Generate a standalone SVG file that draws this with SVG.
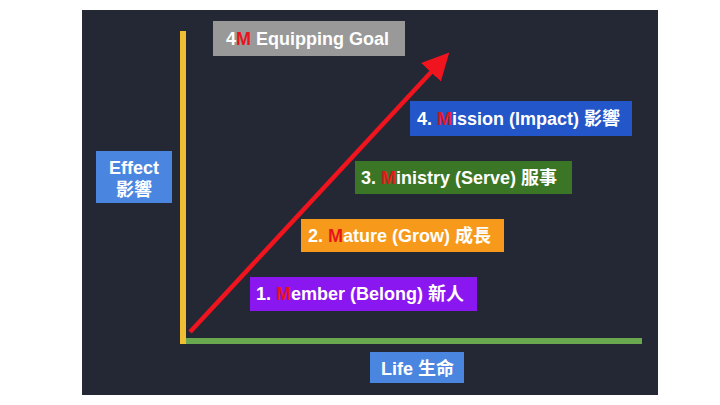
<svg xmlns="http://www.w3.org/2000/svg" width="720" height="405" viewBox="0 0 720 405">
<defs>
<style>
.t{font-family:"Liberation Sans","Noto Sans CJK TC",sans-serif;font-weight:bold;font-size:18px;fill:#fff}
.m{fill:#e8141c}
</style>
<marker id="ah" markerWidth="6" markerHeight="6" refX="1" refY="3" orient="auto" markerUnits="strokeWidth" viewBox="0 0 6 6">
<path d="M0,0 L6,3 L0,6 Z" fill="#f0141e"/>
</marker>
</defs>
<rect width="720" height="405" fill="#fff"/>
<rect x="82" y="10" width="576" height="385" fill="#232834"/>
<g id="axes">
<rect x="180" y="31" width="6" height="313" fill="#f0be32"/>
<rect x="186" y="338" width="456" height="6" fill="#6aa84f"/>
</g>
<g id="connectors">
<line x1="190" y1="332" x2="434" y2="69" stroke="#f0141e" stroke-width="4.5" marker-end="url(#ah)"/>
</g>
<g id="goal">
<rect x="213" y="21" width="192" height="35" fill="#999"/>
<text class="t" x="226" y="45">4<tspan class="m">M</tspan> Equipping Goal</text>
</g>
<g id="mission">
<rect x="410" y="101" width="222" height="35" fill="#2356c8"/>
<text class="t" x="417" y="125">4. <tspan class="m">M</tspan>ission (Impact) 影響</text>
</g>
<g id="ministry">
<rect x="355" y="161" width="217" height="33" fill="#3b7526"/>
<text class="t" x="361" y="184">3. <tspan class="m">M</tspan>inistry (Serve) 服事</text>
</g>
<g id="mature">
<rect x="301" y="219" width="203" height="33" fill="#f79a1b"/>
<text class="t" x="308" y="242">2. <tspan class="m">M</tspan>ature (Grow) 成長</text>
</g>
<g id="member">
<rect x="250" y="277" width="227" height="34" fill="#8b17f0"/>
<text class="t" x="256" y="300">1. <tspan class="m">M</tspan>ember (Belong) 新人</text>
</g>
<g id="effect">
<rect x="96" y="151" width="76" height="52" fill="#4a86e0"/>
<text class="t" x="134" y="174" text-anchor="middle">Effect</text>
<text class="t" x="134" y="196" text-anchor="middle">影響</text>
</g>
<g id="life">
<rect x="370" y="352" width="94" height="31" fill="#4a86e0"/>
<text class="t" x="381" y="375">Life 生命</text>
</g>
</svg>
